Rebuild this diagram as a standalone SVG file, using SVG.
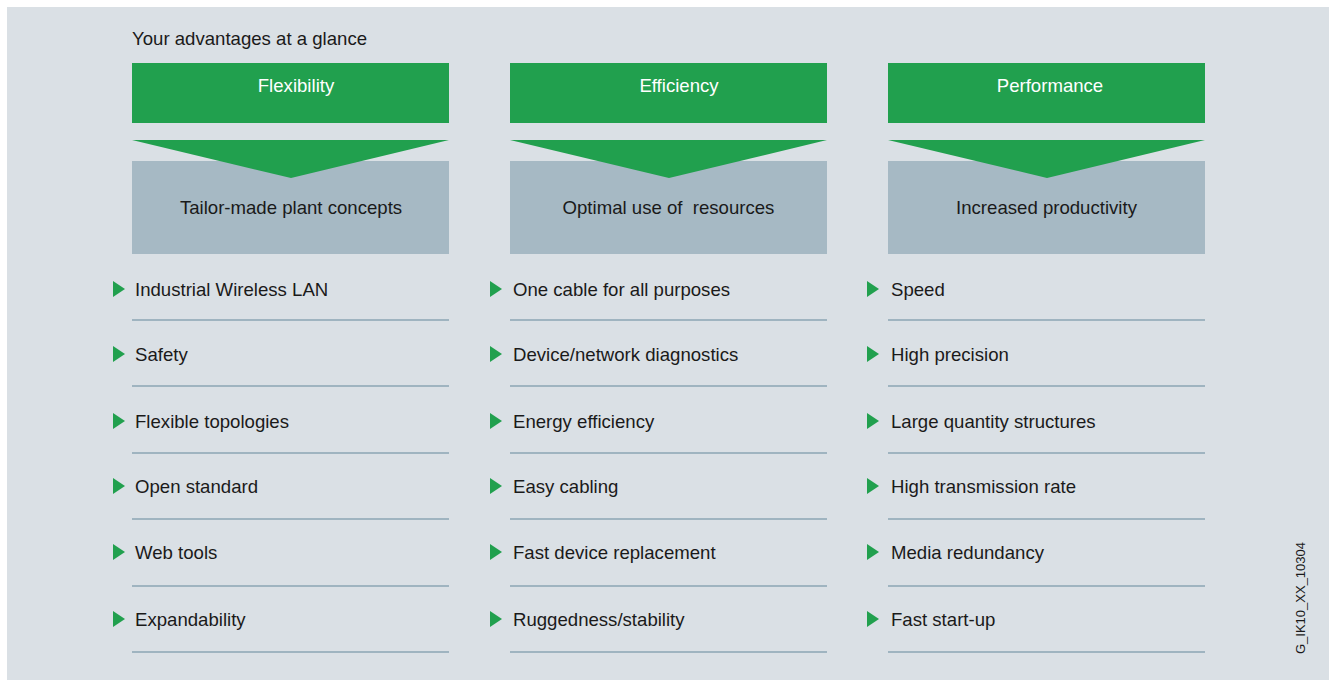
<svg xmlns="http://www.w3.org/2000/svg" width="1329" height="680" viewBox="0 0 1329 680">
<style>
.t{font-family:"Liberation Sans",Arial,sans-serif;font-size:18.6px;fill:#1a1a1a}
.h{font-family:"Liberation Sans",Arial,sans-serif;font-size:18.6px;fill:#ffffff;text-anchor:middle}
.c{font-family:"Liberation Sans",Arial,sans-serif;font-size:18.6px;fill:#1a1a1a;text-anchor:middle}
.g{fill:#21a04e}
.b{fill:#a6b9c4}
.l{stroke:#9fb4c0;stroke-width:2;fill:none}
</style>
<defs>
<polygon id="bul" points="0,-8 12,0 0,8" fill="#21a04e"/>
</defs>
<rect x="7" y="7" width="1322" height="673" fill="#dae0e5"/>
<text class="t" x="132" y="45">Your advantages at a glance</text>
<g id="col1">
<rect class="g" x="132" y="63" width="317" height="60"/>
<text class="h" x="296" y="92">Flexibility</text>
<rect class="b" x="132" y="161" width="317" height="93"/>
<polygon class="g" points="132,140 449,140 291,178"/>
<text class="c" x="291" y="214">Tailor-made plant concepts</text>
</g>
<g id="col2">
<rect class="g" x="510" y="63" width="317" height="60"/>
<text class="h" x="679" y="92">Efficiency</text>
<rect class="b" x="510" y="161" width="317" height="93"/>
<polygon class="g" points="510,140 827,140 669,178"/>
<text class="c" x="668.5" y="214">Optimal use of&#160; resources</text>
</g>
<g id="col3">
<rect class="g" x="888" y="63" width="317" height="60"/>
<text class="h" x="1050" y="92">Performance</text>
<rect class="b" x="888" y="161" width="317" height="93"/>
<polygon class="g" points="888,140 1205,140 1047,178"/>
<text class="c" x="1046.5" y="214">Increased productivity</text>
</g>
<g id="lines">
<path class="l" d="M132 320H449M132 386H449M132 453H449M132 519H449M132 586H449M132 652H449"/>
<path class="l" d="M510 320H827M510 386H827M510 453H827M510 519H827M510 586H827M510 652H827"/>
<path class="l" d="M888 320H1205M888 386H1205M888 453H1205M888 519H1205M888 586H1205M888 652H1205"/>
</g>
<g id="items1">
<use href="#bul" x="113" y="289"/><text class="t" x="135" y="296">Industrial Wireless LAN</text>
<use href="#bul" x="113" y="354"/><text class="t" x="135" y="361">Safety</text>
<use href="#bul" x="113" y="421"/><text class="t" x="135" y="428">Flexible topologies</text>
<use href="#bul" x="113" y="486"/><text class="t" x="135" y="493">Open standard</text>
<use href="#bul" x="113" y="552"/><text class="t" x="135" y="559">Web tools</text>
<use href="#bul" x="113" y="619"/><text class="t" x="135" y="626">Expandability</text>
</g>
<g id="items2">
<use href="#bul" x="490" y="289"/><text class="t" x="513" y="296">One cable for all purposes</text>
<use href="#bul" x="490" y="354"/><text class="t" x="513" y="361">Device/network diagnostics</text>
<use href="#bul" x="490" y="421"/><text class="t" x="513" y="428">Energy efficiency</text>
<use href="#bul" x="490" y="486"/><text class="t" x="513" y="493">Easy cabling</text>
<use href="#bul" x="490" y="552"/><text class="t" x="513" y="559">Fast device replacement</text>
<use href="#bul" x="490" y="619"/><text class="t" x="513" y="626">Ruggedness/stability</text>
</g>
<g id="items3">
<use href="#bul" x="867" y="289"/><text class="t" x="891" y="296">Speed</text>
<use href="#bul" x="867" y="354"/><text class="t" x="891" y="361">High precision</text>
<use href="#bul" x="867" y="421"/><text class="t" x="891" y="428">Large quantity structures</text>
<use href="#bul" x="867" y="486"/><text class="t" x="891" y="493">High transmission rate</text>
<use href="#bul" x="867" y="552"/><text class="t" x="891" y="559">Media redundancy</text>
<use href="#bul" x="867" y="619"/><text class="t" x="891" y="626">Fast start-up</text>
</g>
<text class="t" transform="translate(1305,598) rotate(-90)" text-anchor="middle" style="font-size:13px">G_IK10_XX_10304</text>
</svg>
